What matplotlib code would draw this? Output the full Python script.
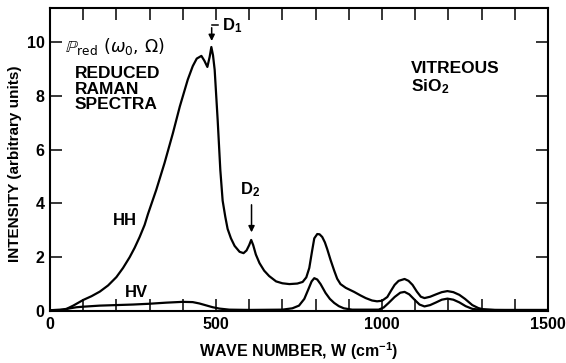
import matplotlib.pyplot as plt
from matplotlib.ticker import MultipleLocator

plt.rcParams['font.family'] = ['Liberation Sans', 'DejaVu Sans']
plt.rcParams['mathtext.fontset'] = 'custom'
plt.rcParams['mathtext.rm'] = 'Liberation Sans:bold'
plt.rcParams['mathtext.bf'] = 'Liberation Sans:bold'
plt.rcParams['mathtext.it'] = 'Liberation Sans:bold'

# Reduced Raman spectra of vitreous SiO2, HH and HV polarisations
hh_w = [0, 30, 50, 70, 100, 125, 150, 175, 200, 220, 240, 255, 270, 285,
        295, 320, 345, 370, 391, 415, 430, 442, 456, 465, 474, 481, 486,
        491, 496, 505, 513, 520, 528, 535, 545, 556, 571, 583, 592, 600, 606,
        612, 620, 631, 645, 660, 681, 700, 721, 745, 761, 772, 781, 789, 796,
        805, 812, 820, 828, 835, 845, 856, 865, 875, 891, 916, 935, 951, 970,
        985, 1000, 1016, 1027, 1038, 1050, 1068, 1080, 1092, 1105, 1117,
        1128, 1145, 1163, 1180, 1197, 1215, 1233, 1250, 1272, 1290, 1302,
        1340, 1400, 1500]
hh_i = [0.03, 0.04, 0.08, 0.2, 0.41, 0.55, 0.72, 0.95, 1.26, 1.6, 2.0, 2.35,
        2.75, 3.2, 3.6, 4.5, 5.5, 6.6, 7.6, 8.6, 9.1, 9.38, 9.48, 9.3, 9.07,
        9.45, 9.81, 9.5, 8.96, 7.1, 5.24, 4.1, 3.5, 3.05, 2.7, 2.42, 2.2,
        2.15, 2.25, 2.45, 2.64, 2.45, 2.1, 1.78, 1.5, 1.3, 1.1, 1.03, 1.0,
        1.02, 1.08, 1.25, 1.6, 2.2, 2.7, 2.86, 2.85, 2.75, 2.55, 2.3, 1.9,
        1.5, 1.2, 1.0, 0.86, 0.71, 0.58, 0.48, 0.39, 0.36, 0.38, 0.52, 0.75,
        0.97, 1.12, 1.19, 1.12, 0.97, 0.72, 0.53, 0.48, 0.53, 0.62, 0.7,
        0.74, 0.7, 0.6, 0.45, 0.22, 0.11, 0.07, 0.04, 0.04, 0.04]

hv_w = [0, 40, 60, 80, 100, 150, 200, 250, 300, 350, 400, 430, 450, 470,
        490, 510, 540, 600, 700, 730, 750, 766, 778, 788, 796, 805, 815, 830,
        843, 856, 870, 885, 910, 990, 1005, 1020, 1038, 1055, 1068, 1082,
        1098, 1113, 1128, 1145, 1163, 1180, 1197, 1215, 1233, 1252, 1272,
        1300, 1400, 1500]
hv_i = [0.03, 0.05, 0.1, 0.14, 0.16, 0.2, 0.22, 0.24, 0.27, 0.31, 0.34, 0.33,
        0.28, 0.21, 0.14, 0.09, 0.05, 0.04, 0.05, 0.1, 0.2, 0.45, 0.8, 1.1,
        1.22, 1.17, 1.0, 0.67, 0.45, 0.3, 0.18, 0.1, 0.05, 0.05, 0.13, 0.3,
        0.52, 0.68, 0.71, 0.62, 0.42, 0.24, 0.17, 0.22, 0.32, 0.42, 0.46,
        0.42, 0.32, 0.18, 0.08, 0.04, 0.03, 0.03]

# defect lines D1 and D2
d1_w, d1_i = 487, 9.81
d2_w, d2_i = 607, 2.64

fig = plt.figure(figsize=(5.66, 3.63), dpi=100)
ax = fig.add_axes([50 / 566, 52 / 363, 498 / 566, 303 / 363])

ax.plot(hh_w, hh_i, color='black', lw=1.6, solid_joinstyle='round')
ax.plot(hv_w, hv_i, color='black', lw=1.6, solid_joinstyle='round')

ax.set_xlim(0, 1500)
ax.set_ylim(0, 11.26)
ax.xaxis.set_major_locator(MultipleLocator(500))
ax.xaxis.set_minor_locator(MultipleLocator(100))
ax.yaxis.set_major_locator(MultipleLocator(2))
ax.tick_params(which='both', direction='in', length=8.5, width=1.1,
               top=True, right=True, labelsize=11.5, pad=4)
for lab in ax.get_xticklabels() + ax.get_yticklabels():
    lab.set_fontweight('bold')
for sp in ax.spines.values():
    sp.set_linewidth(1.5)

ax.set_xlabel(r'WAVE NUMBER, W (cm$^{-1}$)', fontsize=11.5, fontweight='bold',
              labelpad=6)
ax.set_ylabel('INTENSITY (arbitrary units)', fontsize=11, fontweight='bold')
ax.yaxis.set_label_coords(-0.056, 0.485)

# annotations
arrow = dict(arrowstyle='-|>', color='black', lw=1.1, mutation_scale=9)
ax.annotate('', xy=(d1_w, d1_i + 0.12), xytext=(d1_w, 10.63),
            arrowprops=arrow)
ax.plot([d1_w, d1_w + 20], [10.63, 10.63], color='black', lw=1.1)
ax.text(d1_w + 30, 10.6, r'D$_1$', fontsize=12, fontweight='bold',
        va='center', ha='left')

ax.annotate('', xy=(d2_w, d2_i + 0.18), xytext=(d2_w, 4.05),
            arrowprops=arrow)
ax.text(d2_w - 5, 4.5, r'D$_2$', fontsize=12, fontweight='bold',
        va='center', ha='center')

ax.text(45, 9.62, r'$\mathbb{P}_{\rm red}\ (\omega_0,\,\Omega)$', fontsize=12.5,
        math_fontfamily='dejavusans', va='baseline', ha='left')
ax.text(75, 9.1, 'REDUCED\nRAMAN\nSPECTRA', fontsize=12.5, fontweight='bold',
        va='top', ha='left', linespacing=1.05)
ax.text(1088, 9.28, 'VITREOUS\nSiO$_2$', fontsize=12.5, fontweight='bold',
        va='top', ha='left', linespacing=1.05)

ax.text(225, 3.35, 'HH', fontsize=12, fontweight='bold', ha='center',
        va='center')
ax.text(261, 0.7, 'HV', fontsize=12, fontweight='bold', ha='center',
        va='center')

fig.savefig('out.png', dpi=100)
